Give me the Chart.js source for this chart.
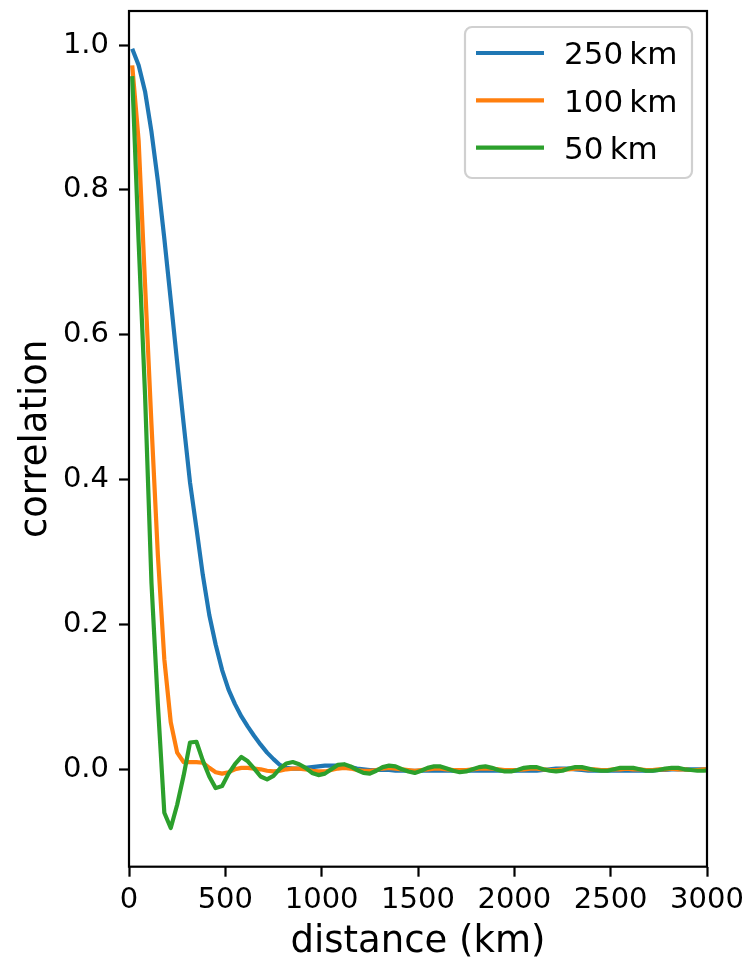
<!DOCTYPE html>
<html>
<head>
<meta charset="utf-8">
<script src="https://cdn.jsdelivr.net/npm/chart.js@4.4.1/dist/chart.umd.min.js"></script>
<style>
  html, body { margin: 0; padding: 0; background: #fff; }
  #wrap { width: 749px; height: 961px; }
</style>
</head>
<body>
<div id="wrap"><canvas id="chart" width="749" height="961"></canvas></div>
<script>
// distance bins (km)
const distances = [
  16.7, 50, 83.3, 116.7, 150, 183.3, 216.7, 250, 283.3, 316.7,
  350, 383.3, 416.7, 450, 483.3, 516.7, 550, 583.3, 616.7, 650,
  683.3, 716.7, 750, 783.3, 816.7, 850, 883.3, 916.7, 950, 983.3,
  1016.7, 1050, 1083.3, 1116.7, 1150, 1183.3, 1216.7, 1250, 1283.3, 1316.7,
  1350, 1383.3, 1416.7, 1450, 1483.3, 1516.7, 1550, 1583.3, 1616.7, 1650,
  1683.3, 1716.7, 1750, 1783.3, 1816.7, 1850, 1883.3, 1916.7, 1950, 1983.3,
  2016.7, 2050, 2083.3, 2116.7, 2150, 2183.3, 2216.7, 2250, 2283.3, 2316.7,
  2350, 2383.3, 2416.7, 2450, 2483.3, 2516.7, 2550, 2583.3, 2616.7, 2650,
  2683.3, 2716.7, 2750, 2783.3, 2816.7, 2850, 2883.3, 2916.7, 2950, 2983.3,
  3016.7
];

const corr250 = [
  0.995, 0.972, 0.936, 0.880, 0.812, 0.733, 0.648, 0.562, 0.478, 0.396,
  0.333, 0.268, 0.213, 0.172, 0.137, 0.110, 0.090, 0.073, 0.059, 0.046,
  0.034, 0.023, 0.014, 0.006, 0.002, 0.001, 0.001, 0.002, 0.003, 0.004,
  0.005, 0.005, 0.005, 0.004, 0.003, 0.001, 0.000, -0.001, -0.001, -0.001,
  -0.001, -0.002, -0.002, -0.002, -0.002, -0.002, -0.002, -0.002, -0.002, -0.002,
  -0.002, -0.002, -0.002, -0.002, -0.002, -0.002, -0.002, -0.002, -0.002, -0.002,
  -0.002, -0.002, -0.002, -0.002, -0.001, 0.000, 0.001, 0.001, 0.001, 0.000,
  -0.001, -0.002, -0.002, -0.002, -0.002, -0.002, -0.002, -0.002, -0.002, -0.002,
  -0.002, -0.002, -0.001, -0.001, 0.000, 0.000, 0.000, 0.000, 0.000, 0.000,
  0.000
];

const corr100 = [
  0.972, 0.868, 0.670, 0.476, 0.295, 0.152, 0.065, 0.023, 0.010, 0.010,
  0.010, 0.009, 0.002, -0.004, -0.006, -0.004, 0.000, 0.002, 0.002, 0.001,
  0.000, -0.002, -0.003, -0.002, 0.000, 0.001, 0.001, 0.000, -0.002, -0.003,
  -0.003, -0.001, 0.001, 0.002, 0.001, -0.001, -0.002, -0.002, -0.001, 0.001,
  0.002, 0.001, 0.000, -0.001, -0.002, -0.001, 0.000, 0.001, 0.001, 0.000,
  -0.001, -0.001, -0.001, 0.000, 0.001, 0.001, 0.001, 0.000, -0.001, -0.001,
  -0.001, 0.000, 0.001, 0.001, 0.000, -0.001, -0.001, 0.000, 0.000, 0.001,
  0.001, 0.000, 0.000, -0.001, -0.001, 0.000, 0.000, 0.001, 0.000, 0.000,
  -0.001, -0.001, 0.000, 0.000, 0.001, 0.000, 0.000, -0.001, -0.001, 0.000,
  0.000
];

const corr50 = [
  0.957, 0.728, 0.517, 0.257, 0.089, -0.060, -0.081, -0.049, -0.009, 0.037,
  0.038, 0.012, -0.010, -0.026, -0.023, -0.006, 0.007, 0.017, 0.011, 0.001,
  -0.010, -0.014, -0.009, 0.001, 0.008, 0.010, 0.007, 0.002, -0.005, -0.008,
  -0.006, 0.000, 0.006, 0.007, 0.004, -0.001, -0.005, -0.006, -0.002, 0.003,
  0.005, 0.004, 0.000, -0.003, -0.005, -0.002, 0.002, 0.004, 0.004, 0.001,
  -0.002, -0.004, -0.003, 0.000, 0.003, 0.004, 0.002, -0.001, -0.003, -0.003,
  -0.001, 0.002, 0.003, 0.003, 0.000, -0.002, -0.003, -0.002, 0.001, 0.003,
  0.003, 0.001, -0.001, -0.002, -0.002, 0.000, 0.002, 0.002, 0.002, 0.000,
  -0.002, -0.002, -0.001, 0.001, 0.002, 0.002, 0.000, -0.001, -0.002, -0.002,
  -0.001
];

const seriesLabels = ['250\u2009km', '100\u2009km', '50\u2009km'];
const seriesColors = ['#1f77b4', '#ff7f0e', '#2ca02c'];
const yTickValues = [0.0, 0.2, 0.4, 0.6, 0.8, 1.0];
const xTickStep = 500;

const FONT = 'DejaVu Sans';

const toPoints = vals => vals.map((v, i) => ({ x: distances[i], y: v }));

// matplotlib-style box around the axes
const framePlugin = {
  id: 'frame',
  afterDatasetsDraw(chart) {
    const { ctx, chartArea: a } = chart;
    ctx.save();
    ctx.strokeStyle = '#000';
    ctx.lineWidth = 2.2;
    ctx.strokeRect(a.left, a.top, a.right - a.left, a.bottom - a.top);
    ctx.restore();
  }
};

// legend drawn inside the plot, upper right
const boxLegend = {
  id: 'boxLegend',
  afterDraw(chart) {
    const { ctx, chartArea: a } = chart;
    const w = 227, h = 151, r = 7;
    const x0 = a.right - 15 - w, y0 = a.top + 16;
    ctx.save();
    ctx.beginPath();
    ctx.roundRect(x0, y0, w, h, r);
    ctx.fillStyle = 'rgba(255,255,255,0.8)';
    ctx.fill();
    ctx.strokeStyle = '#d0d0d0';
    ctx.lineWidth = 2.2;
    ctx.stroke();
    ctx.font = '31px "' + FONT + '"';
    ctx.textBaseline = 'alphabetic';
    ctx.fillStyle = '#000';
    chart.data.datasets.forEach((ds, i) => {
      const y = y0 + 26 + i * 47.3;
      ctx.beginPath();
      ctx.moveTo(x0 + 11, y);
      ctx.lineTo(x0 + 79, y);
      ctx.strokeStyle = ds.borderColor;
      ctx.lineWidth = 4.2;
      ctx.stroke();
      ctx.fillText(ds.label, x0 + 99, y + 11.3);
    });
    ctx.restore();
  }
};

new Chart(document.getElementById('chart'), {
  type: 'line',
  data: {
    datasets: [corr250, corr100, corr50].map((vals, i) => ({
      label: seriesLabels[i],
      data: toPoints(vals),
      borderColor: seriesColors[i],
      backgroundColor: seriesColors[i],
      borderWidth: 4.2,
      pointRadius: 0,
      tension: 0,
      fill: false,
      clip: 0,
      borderJoinStyle: 'round',
      order: 2 - i
    }))
  },
  options: {
    responsive: false,
    animation: false,
    events: [],
    layout: { padding: { left: 0, top: 11, right: 42, bottom: 0 } },
    plugins: {
      legend: { display: false },
      tooltip: { enabled: false }
    },
    scales: {
      x: {
        type: 'linear',
        min: 0,
        max: 3000,
        ticks: {
          stepSize: xTickStep,
          color: '#000',
          padding: 6,
          maxRotation: 0,
          autoSkip: false,
          font: { family: FONT, size: 29 },
          callback: v => String(v)
        },
        grid: {
          drawOnChartArea: false,
          drawTicks: true,
          tickLength: 10,
          tickWidth: 2.2,
          tickColor: '#000'
        },
        border: { display: false },
        title: {
          display: true,
          text: 'distance (km)',
          color: '#000',
          font: { family: FONT, size: 37, lineHeight: 1.0 },
          padding: { top: 0, bottom: 0 }
        },
        afterFit(scale) {
          scale.height = 94.3;
          scale.paddingLeft = 0;
          scale.paddingRight = 0;
        }
      },
      y: {
        type: 'linear',
        min: -0.1345,
        max: 1.047,
        afterBuildTicks(scale) {
          scale.ticks = yTickValues.map(v => ({ value: v }));
        },
        ticks: {
          color: '#000',
          padding: 10,
          font: { family: FONT, size: 29 },
          callback: v => v.toFixed(1)
        },
        grid: {
          drawOnChartArea: false,
          drawTicks: true,
          tickLength: 10,
          tickWidth: 2.2,
          tickColor: '#000'
        },
        border: { display: false },
        title: {
          display: true,
          text: 'correlation',
          color: '#000',
          font: { family: FONT, size: 37 },
          padding: { top: 14, bottom: 0 }
        },
        afterFit(scale) {
          scale.width = 129;
          scale.paddingTop = 0;
          scale.paddingBottom = 0;
        }
      }
    }
  },
  plugins: [framePlugin, boxLegend]
});
</script>
</body>
</html>
